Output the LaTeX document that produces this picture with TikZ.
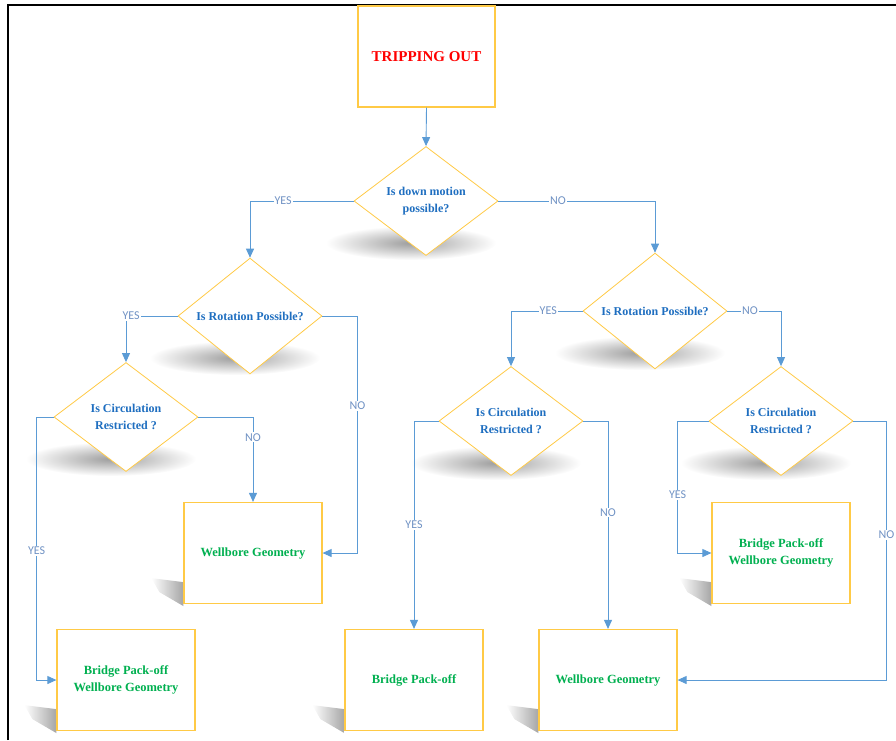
\documentclass[tikz,border=0pt]{standalone}
\usepackage{fontspec}
\setmainfont{Liberation Serif}
\newfontfamily\labelfont{Carlito}
\usetikzlibrary{shapes.geometric, arrows.meta, backgrounds}

\definecolor{boxyellow}{RGB}{255,202,70}
\definecolor{linkblue}{RGB}{91,155,213}
\definecolor{questionblue}{RGB}{30,110,192}
\definecolor{resultgreen}{RGB}{0,176,80}
\definecolor{labelblue}{RGB}{112,146,196}

\tikzset{
  question/.style={diamond, draw=boxyellow, fill=white, line width=0.8pt, minimum width=144pt, minimum height=109pt, inner sep=0pt, align=center, text=questionblue, font=\bfseries\fontsize{12}{17}\selectfont},
  result/.style={rectangle, draw=boxyellow, fill=white, line width=1.2pt, minimum width=138pt, minimum height=101pt, align=center, text=resultgreen, font=\bfseries\fontsize{12.5}{17}\selectfont},
  link/.style={draw=linkblue, line width=0.9pt, -{Triangle[width=8pt, length=9pt]}},
  answer/.style={fill=white, inner sep=1pt, text=labelblue, font=\labelfont\fontsize{12}{12}\selectfont},
  shade/.style={inner color=black!38, outer color=white},
  boxshade/.style={left color=white, right color=black!35}
}

\begin{document}
\begin{tikzpicture}[x=1pt, y=-1pt]
\useasboundingbox (0,0) rectangle (896,740);
\draw[line width=2pt] (7.5,740) -- (7.5,5) -- (896,5);

% TOP
\node[result, text=red, font=\bfseries\fontsize{15}{17}\selectfont, minimum width=137pt] (start) at (426.5,56.5) {TRIPPING OUT};
\node[question] (down) at (426,201) {Is down motion\\possible?};

% LEFT BRANCH
\node[question] (rotleft) at (250,316) {Is Rotation Possible?};
\node[question] (circleft) at (126,417) {Is Circulation\\Restricted ?};
\node[result] (geomleft) at (253,553) {Wellbore Geometry};
\node[result] (bothleft) at (126,680) {Bridge Pack-off\\Wellbore Geometry};

% RIGHT BRANCH
\node[question] (rotright) at (655,311) {Is Rotation Possible?};
\node[question] (circmid) at (511,421) {Is Circulation\\Restricted ?};
\node[question] (circright) at (781,421) {Is Circulation\\Restricted ?};
\node[result] (packmid) at (414,680) {Bridge Pack-off};
\node[result] (geommid) at (608,680) {Wellbore Geometry};
\node[result] (bothright) at (781,553) {Bridge Pack-off\\Wellbore Geometry};

% SHADOWS
\begin{scope}[on background layer]
\foreach \q in {down, rotleft, circleft, rotright, circmid, circright}
  \shade[shade] ([shift={(-15,42)}]\q.center) ellipse [x radius=85, y radius=17];
\foreach \r in {geomleft, bothleft, packmid, geommid, bothright}
  \shade[boxshade] ([yshift=-2]\r.south west) -- ++(0,-24) -- ++(-32,-4) -- ++(8,14) -- cycle;
\end{scope}

% CONNECTORS
\draw[link] (start.south) -- (down.north);
\draw[link] (down.west) -| node[answer, pos=0.34] {YES} (rotleft.north);
\draw[link] (down.east) -| node[answer, pos=0.19] {NO} (rotright.north);

\draw[link] (rotleft.west) -| node[answer, pos=0.45] {YES} (circleft.north);
\draw[link] (rotleft.east) -- ++(35,0) |- node[answer, pos=0.19] {NO} (geomleft.east);
\draw[link] (circleft.west) -- ++(-17,0) |- node[answer, pos=0.255] {YES} (bothleft.west);
\draw[link] (circleft.east) -| node[answer, pos=0.62] {NO} (geomleft.north);

\draw[link] (rotright.west) -| node[answer, pos=0.24] {YES} (circmid.north);
\draw[link] (rotright.east) -| node[answer, pos=0.21] {NO} (circright.north);
\draw[link] (circmid.west) -| node[answer, pos=0.75] {YES} (packmid.north);
\draw[link] (circmid.east) -| node[answer, pos=0.72] {NO} (geommid.north);
\draw[link] (circright.west) -- ++(-31,0) |- node[answer, pos=0.28] {YES} (bothright.west);
\draw[link] (circright.east) -- ++(33,0) |- node[answer, pos=0.22] {NO} (geommid.east);
\end{tikzpicture}
\end{document}
